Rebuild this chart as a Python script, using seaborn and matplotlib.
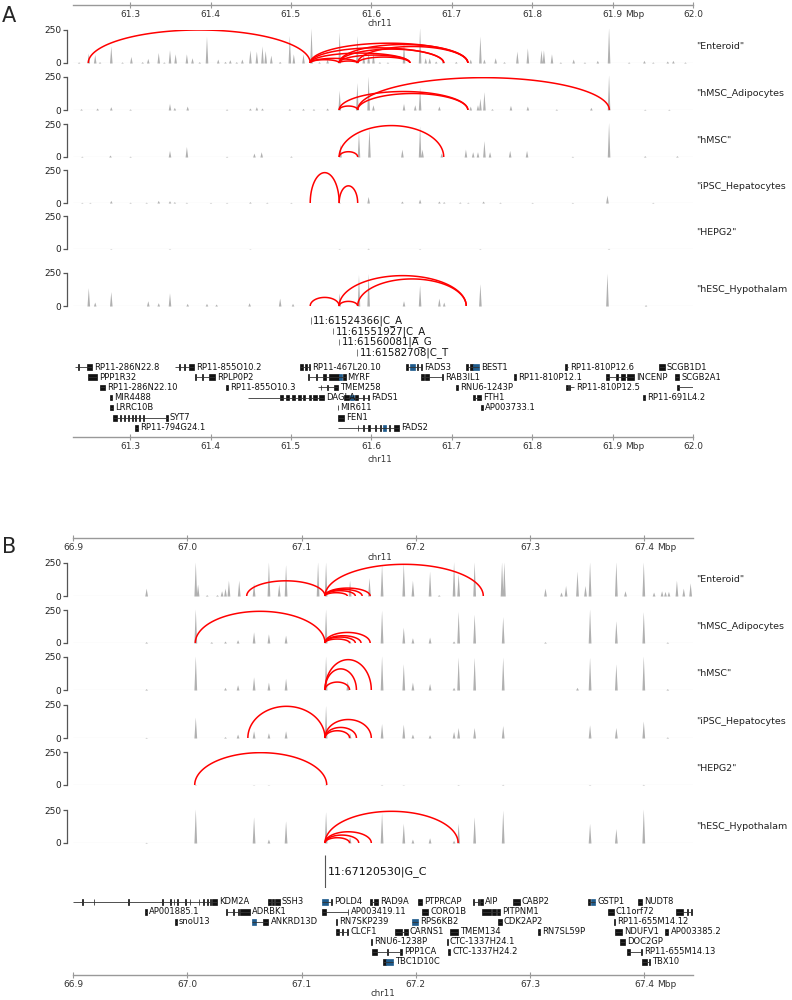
import numpy as np
import pandas as pd
import matplotlib
matplotlib.use("Agg")
import matplotlib.pyplot as plt
import seaborn as sns

sns.set_theme(style="white")
plt.rcParams["font.family"] = ["DejaVu Sans"]

W, H = 792, 1000

# ---------------- data: panel A (chr11 61.23-62.0 Mbp) ----------------
a_xlim = (61.229, 62.0)
a_ticks = [61.3, 61.4, 61.5, 61.6, 61.7, 61.8, 61.9, 62.0]
# track labels as far as they are visible at the right edge
track_names = ['"Enteroid"', '"hMSC_Adipocytes', '"hMSC"',
               '"iPSC_Hepatocytes', '"HEPG2"', '"hESC_Hypothalam']

# coverage peaks (position Mbp, height)
a_enteroid = [(61.236, 8), (61.248, 75), (61.256, 65), (61.262, 10), (61.276, 130), (61.290, 8),
              (61.301, 50), (61.315, 10), (61.322, 35), (61.335, 80), (61.342, 8), (61.349, 100),
              (61.356, 70), (61.370, 70), (61.377, 40), (61.386, 10), (61.395, 205), (61.409, 30),
              (61.418, 12), (61.424, 25), (61.432, 10), (61.439, 30), (61.449, 100), (61.457, 90),
              (61.464, 130), (61.468, 95), (61.475, 60), (61.486, 12), (61.498, 210), (61.503, 70),
              (61.515, 70), (61.525, 265), (61.535, 10), (61.545, 30), (61.560, 235), (61.582, 210),
              (61.590, 70), (61.596, 90), (61.602, 80), (61.610, 10), (61.620, 8), (61.640, 160),
              (61.660, 270), (61.667, 40), (61.672, 40), (61.680, 15), (61.689, 25), (61.705, 12),
              (61.723, 30), (61.735, 205), (61.740, 30), (61.754, 40), (61.765, 10), (61.781, 90),
              (61.794, 115), (61.811, 100), (61.814, 100), (61.824, 70), (61.835, 8), (61.851, 30),
              (61.865, 8), (61.881, 20), (61.895, 270), (61.920, 8), (61.939, 20), (61.950, 8),
              (61.968, 15), (61.975, 20), (61.990, 8)]
a_adipo = [(61.239, 10), (61.259, 15), (61.276, 25), (61.300, 8), (61.349, 50), (61.355, 20),
           (61.371, 30), (61.420, 8), (61.449, 15), (61.457, 25), (61.464, 15), (61.498, 10),
           (61.515, 12), (61.528, 10), (61.545, 15), (61.560, 150), (61.582, 210), (61.596, 260),
           (61.602, 40), (61.640, 50), (61.654, 40), (61.660, 175), (61.684, 30), (61.723, 30),
           (61.732, 40), (61.735, 90), (61.740, 140), (61.750, 10), (61.773, 35), (61.794, 30),
           (61.830, 8), (61.873, 20), (61.895, 270), (61.940, 6), (61.970, 6)]
a_hmsc = [(61.240, 6), (61.275, 15), (61.300, 6), (61.349, 50), (61.370, 80), (61.420, 6),
          (61.454, 30), (61.463, 40), (61.500, 8), (61.561, 100), (61.584, 190), (61.597, 220),
          (61.638, 60), (61.660, 240), (61.663, 60), (61.687, 30), (61.717, 60), (61.726, 40),
          (61.732, 40), (61.740, 125), (61.747, 40), (61.772, 50), (61.793, 50), (61.850, 6),
          (61.895, 265), (61.940, 10), (61.980, 10)]
a_ipsc = [(61.240, 5), (61.250, 5), (61.276, 20), (61.300, 6), (61.320, 6), (61.335, 20),
          (61.349, 18), (61.355, 10), (61.370, 6), (61.400, 5), (61.420, 5), (61.449, 10),
          (61.470, 6), (61.500, 5), (61.560, 8), (61.596, 50), (61.638, 15), (61.660, 30),
          (61.684, 15), (61.690, 10), (61.710, 8), (61.720, 6), (61.739, 15), (61.760, 6),
          (61.800, 5), (61.850, 5), (61.893, 60), (61.950, 5)]
a_hepg2 = [(61.276, 4), (61.349, 4), (61.449, 3), (61.560, 4), (61.596, 6), (61.660, 4),
           (61.735, 4), (61.895, 5)]
a_hesc = [(61.248, 140), (61.256, 30), (61.276, 110), (61.322, 40), (61.335, 25), (61.349, 100),
          (61.371, 20), (61.395, 20), (61.407, 15), (61.448, 25), (61.486, 60), (61.502, 20),
          (61.560, 100), (61.584, 240), (61.596, 250), (61.640, 40), (61.660, 160), (61.684, 60),
          (61.690, 30), (61.735, 170), (61.893, 250), (61.941, 10)]
a_peaks = [a_enteroid, a_adipo, a_hmsc, a_ipsc, a_hepg2, a_hesc]

# interaction arcs (start, end, apex height)
a_arcs = [
    [(61.248, 61.524, 250), (61.524, 61.560, 25), (61.524, 61.583, 35), (61.560, 61.583, 15),
     (61.524, 61.648, 75), (61.560, 61.648, 60), (61.583, 61.648, 45), (61.524, 61.690, 115),
     (61.560, 61.690, 105), (61.524, 61.720, 150), (61.560, 61.720, 140), (61.583, 61.720, 125)],
    [(61.560, 61.583, 30), (61.560, 61.720, 140), (61.583, 61.720, 125), (61.583, 61.896, 245)],
    [(61.560, 61.583, 40), (61.560, 61.690, 238)],
    [(61.524, 61.560, 230), (61.560, 61.583, 130)],
    [],
    [(61.524, 61.560, 65), (61.560, 61.583, 35), (61.560, 61.718, 230), (61.583, 61.718, 205)],
]

a_variants = [61.524366, 61.551927, 61.560081, 61.582708]
a_variant_labels = ["11:61524366|C_A", "11:61551927|C_A", "11:61560081|A_G", "11:61582708|C_T"]

# genes: (name, start, end, row, exons)
a_genes = [
    ("RP11-286N22.8", 61.231, 61.253, 0, [(61.235, 61.236), (61.247, 61.253)]),
    ("RP11-855O10.2", 61.356, 61.379, 0, [(61.361, 61.362), (61.367, 61.368), (61.373, 61.379)]),
    ("RP11-467L20.10", 61.511, 61.524, 0, [(61.511, 61.515), (61.518, 61.520), (61.523, 61.524)]),
    ("FADS3", 61.643, 61.663, 0, [(61.643, 61.646), (61.648, 61.654, "b"), (61.657, 61.658), (61.662, 61.663)]),
    ("BEST1", 61.718, 61.734, 0, [(61.718, 61.720), (61.723, 61.727), (61.727, 61.734, "b")]),
    ("RP11-810P12.6", 61.841, 61.845, 0, [(61.841, 61.843)]),
    ("SCGB1D1", 61.958, 61.965, 0, []),
    ("PPP1R32", 61.248, 61.259, 1, []),
    ("RPLP0P2", 61.381, 61.406, 1, [(61.381, 61.382), (61.390, 61.391), (61.398, 61.406)]),
    ("MYRF", 61.521, 61.568, 1, [(61.521, 61.522), (61.531, 61.532), (61.540, 61.544), (61.547, 61.560),
                                 (61.560, 61.563, "b"), (61.565, 61.568)]),
    ("RAB3IL1", 61.662, 61.689, 1, [(61.662, 61.665), (61.667, 61.672), (61.688, 61.689)]),
    ("RP11-810P12.1", 61.778, 61.780, 1, []),
    ("INCENP", 61.892, 61.927, 1, [(61.892, 61.896), (61.904, 61.907), (61.911, 61.915), (61.918, 61.927)]),
    ("SCGB2A1", 61.977, 61.983, 1, []),
    ("RP11-286N22.10", 61.263, 61.269, 2, []),
    ("RP11-855O10.3", 61.419, 61.422, 2, []),
    ("TMEM258", 61.534, 61.559, 2, [(61.537, 61.538), (61.545, 61.546), (61.553, 61.559)]),
    ("RNU6-1243P", 61.705, 61.708, 2, []),
    ("RP11-810P12.5", 61.842, 61.852, 2, [(61.842, 61.844), (61.846, 61.847)]),
    ("", 61.980, 62.000, 2, [(61.980, 61.983)]),
    ("MIR4488", 61.275, 61.278, 3, []),
    ("DAGLA", 61.447, 61.541, 3, [(61.487, 61.490), (61.494, 61.498), (61.501, 61.505), (61.509, 61.512),
                                  (61.515, 61.518), (61.522, 61.525), (61.528, 61.532), (61.535, 61.541)]),
    ("FADS1", 61.566, 61.597, 3, [(61.566, 61.572), (61.573, 61.578, "b"), (61.580, 61.584),
                                  (61.590, 61.591), (61.596, 61.597)]),
    ("FTH1", 61.726, 61.736, 3, [(61.726, 61.729), (61.732, 61.736)]),
    ("RP11-691L4.2", 61.938, 61.940, 3, []),
    ("LRRC10B", 61.275, 61.279, 4, []),
    ("MIR611", 61.558, 61.559, 4, []),
    ("AP003733.1", 61.736, 61.739, 4, []),
    ("SYT7", 61.279, 61.347, 5, [(61.279, 61.284), (61.287, 61.289), (61.293, 61.294), (61.298, 61.299),
                                 (61.302, 61.303), (61.306, 61.307), (61.311, 61.312), (61.316, 61.317),
                                 (61.345, 61.347)]),
    ("FEN1", 61.559, 61.566, 5, []),
    ("RP11-794G24.1", 61.306, 61.310, 6, []),
    ("FADS2", 61.559, 61.634, 6, [(61.583, 61.584), (61.590, 61.591), (61.596, 61.598), (61.605, 61.606),
                                  (61.611, 61.612), (61.615, 61.618, "b"), (61.622, 61.623), (61.628, 61.634)]),
]

# ---------------- data: panel B (chr11 66.9-67.44 Mbp) ----------------
b_xlim = (66.9, 67.4425)
b_ticks = [66.9, 67.0, 67.1, 67.2, 67.3, 67.4]

b_enteroid = [(66.964, 60), (67.007, 260), (67.009, 90), (67.017, 10), (67.026, 10), (67.030, 40),
              (67.033, 60), (67.036, 120), (67.045, 120), (67.058, 100), (67.071, 260), (67.080, 90),
              (67.086, 240), (67.114, 260), (67.121, 260), (67.142, 120), (67.159, 140), (67.170, 240),
              (67.189, 250), (67.197, 120), (67.212, 190), (67.220, 10), (67.233, 260), (67.237, 170),
              (67.251, 260), (67.275, 260), (67.277, 260), (67.313, 60), (67.327, 30), (67.331, 80),
              (67.341, 190), (67.348, 80), (67.352, 260), (67.375, 260), (67.383, 40), (67.399, 260),
              (67.408, 30), (67.415, 40), (67.418, 35), (67.421, 35), (67.428, 120), (67.434, 60),
              (67.440, 100)]
b_adipo = [(66.964, 10), (67.007, 260), (67.021, 10), (67.033, 15), (67.044, 25), (67.058, 85),
           (67.071, 70), (67.086, 60), (67.121, 260), (67.142, 20), (67.170, 250), (67.189, 120),
           (67.197, 40), (67.212, 45), (67.233, 15), (67.237, 240), (67.251, 220), (67.276, 200),
           (67.313, 10), (67.352, 260), (67.375, 170), (67.399, 240), (67.420, 8)]
b_hmsc = [(66.964, 10), (67.007, 260), (67.033, 20), (67.044, 40), (67.058, 100), (67.071, 60),
          (67.086, 90), (67.121, 260), (67.140, 70), (67.170, 260), (67.189, 200), (67.197, 60),
          (67.212, 50), (67.233, 20), (67.237, 250), (67.251, 250), (67.276, 250), (67.341, 20),
          (67.352, 250), (67.375, 200), (67.399, 260), (67.420, 10)]
b_ipsc = [(66.964, 5), (67.007, 160), (67.033, 10), (67.044, 30), (67.058, 55), (67.071, 40),
          (67.086, 55), (67.121, 250), (67.142, 40), (67.170, 110), (67.189, 105), (67.197, 30),
          (67.212, 25), (67.233, 50), (67.237, 80), (67.251, 80), (67.276, 95), (67.352, 100),
          (67.375, 80), (67.399, 130), (67.420, 8)]
b_hepg2 = [(67.007, 4), (67.058, 3), (67.071, 3), (67.121, 4), (67.170, 4), (67.189, 3),
           (67.237, 4), (67.276, 5), (67.352, 4), (67.399, 5)]
b_hesc = [(66.964, 5), (67.007, 260), (67.058, 200), (67.071, 30), (67.086, 170), (67.121, 240),
          (67.142, 50), (67.170, 230), (67.189, 150), (67.197, 30), (67.212, 40), (67.233, 20),
          (67.237, 150), (67.251, 200), (67.276, 250), (67.352, 150), (67.375, 110), (67.399, 260)]
b_peaks = [b_enteroid, b_adipo, b_hmsc, b_ipsc, b_hepg2, b_hesc]

b_arcs = [
    [(67.052, 67.1205, 115), (67.1205, 67.259, 240), (67.1205, 67.140, 25), (67.1205, 67.147, 40),
     (67.1205, 67.153, 50), (67.1205, 67.160, 60)],
    [(67.007, 67.1205, 240), (67.1205, 67.142, 30), (67.1205, 67.147, 45), (67.1205, 67.152, 55),
     (67.1205, 67.160, 80)],
    [(67.1205, 67.142, 60), (67.1205, 67.148, 160), (67.1205, 67.161, 230)],
    [(67.053, 67.1205, 240), (67.1205, 67.142, 55), (67.1205, 67.148, 80), (67.1205, 67.161, 140)],
    [(67.0065, 67.122, 245)],
    [(67.1205, 67.142, 40), (67.1205, 67.150, 60), (67.1205, 67.161, 85), (67.1205, 67.237, 240)],
]

b_variants = [67.120530]
b_variant_labels = ["11:67120530|G_C"]

b_genes = [
    ("KDM2A", 66.900, 67.026, 0, [(66.908, 66.9085), (66.918, 66.9185), (66.948, 66.949), (66.978, 66.9785),
                                  (66.985, 66.9855), (66.988, 66.9885), (66.991, 66.9915), (66.998, 66.9985),
                                  (67.002, 67.0025), (67.010, 67.0105), (67.014, 67.015), (67.017, 67.018),
                                  (67.020, 67.021), (67.022, 67.026)]),
    ("SSH3", 67.071, 67.081, 0, [(67.071, 67.073), (67.074, 67.076), (67.077, 67.081)]),
    ("POLD4", 67.118, 67.127, 0, [(67.118, 67.123, "b"), (67.126, 67.127)]),
    ("RAD9A", 67.160, 67.167, 0, [(67.160, 67.162), (67.163, 67.167)]),
    ("PTPRCAP", 67.202, 67.205, 0, []),
    ("AIP", 67.250, 67.259, 0, [(67.250, 67.2505), (67.254, 67.255), (67.256, 67.259)]),
    ("CABP2", 67.285, 67.291, 0, []),
    ("GSTP1", 67.351, 67.357, 0, [(67.351, 67.352), (67.353, 67.357, "b")]),
    ("NUDT8", 67.394, 67.398, 0, []),
    ("AP001885.1", 66.963, 66.965, 1, []),
    ("ADRBK1", 67.034, 67.055, 1, [(67.034, 67.0345), (67.040, 67.0405), (67.044, 67.045), (67.046, 67.055)]),
    ("AP003419.11", 67.118, 67.141, 1, [(67.118, 67.121), (67.1405, 67.141)]),
    ("CORO1B", 67.205, 67.211, 1, []),
    ("PITPNM1", 67.258, 67.274, 1, [(67.258, 67.266), (67.267, 67.270), (67.271, 67.274)]),
    ("C11orf72", 67.368, 67.373, 1, []),
    ("", 67.428, 67.442, 1, [(67.428, 67.434), (67.437, 67.438), (67.441, 67.442)]),
    ("snoU13", 66.989, 66.991, 2, []),
    ("ANKRD13D", 67.057, 67.071, 2, [(67.057, 67.060, "b"), (67.066, 67.071)]),
    ("RN7SKP239", 67.130, 67.131, 2, []),
    ("RPS6KB2", 67.197, 67.202, 2, [(67.197, 67.202, "b")]),
    ("CDK2AP2", 67.272, 67.275, 2, []),
    ("RP11-655M14.12", 67.373, 67.374, 2, []),
    ("CLCF1", 67.130, 67.141, 3, [(67.130, 67.133), (67.135, 67.136), (67.140, 67.141)]),
    ("CARNS1", 67.182, 67.193, 3, [(67.182, 67.188), (67.190, 67.193)]),
    ("TMEM134", 67.230, 67.237, 3, []),
    ("RN7SL59P", 67.307, 67.309, 3, []),
    ("NDUFV1", 67.374, 67.380, 3, []),
    ("AP003385.2", 67.418, 67.421, 3, []),
    ("RNU6-1238P", 67.161, 67.162, 4, []),
    ("CTC-1337H24.1", 67.227, 67.228, 4, []),
    ("DOC2GP", 67.379, 67.383, 4, []),
    ("PPP1CA", 67.162, 67.188, 5, [(67.162, 67.166), (67.175, 67.1755), (67.186, 67.188)]),
    ("CTC-1337H24.2", 67.228, 67.230, 5, []),
    ("RP11-655M14.13", 67.385, 67.398, 5, [(67.385, 67.387), (67.397, 67.398)]),
    ("TBC1D10C", 67.171, 67.180, 6, [(67.171, 67.174), (67.174, 67.180, "b")]),
    ("TBX10", 67.398, 67.405, 6, [(67.398, 67.402), (67.404, 67.405)]),
]

# ---------------- drawing ----------------
fig = plt.figure(figsize=(W / 100, H / 100), dpi=100)
X0, X1 = 73, 693  # pixel extent of the genome tracks


def add_ax(x0, y0, x1, y1):
    ax = fig.add_axes([x0 / W, 1 - y1 / H, (x1 - x0) / W, (y1 - y0) / H])
    ax.patch.set_visible(False)
    return ax


def draw_track(y_top, peaks, arcs, xlim, label, half_w):
    ax = add_ax(X0, y_top, X1, y_top + 33)
    grid = np.linspace(xlim[0], xlim[1], 8000)
    prof = np.zeros_like(grid)
    for p, h in peaks:
        prof = np.maximum(prof, h * np.clip(1 - np.abs(grid - p) / half_w, 0, None))
    ax.fill_between(grid, prof, color="#b0b0b0", lw=0, clip_on=False)
    ax.plot(xlim, [1.5, 1.5], color="#cccccc", lw=0.8)
    if arcs:
        t = np.linspace(0, np.pi, 90)
        parts = []
        for i, (s, e, h) in enumerate(arcs):
            parts.append(pd.DataFrame({"x": (s + e) / 2 + (e - s) / 2 * np.cos(t),
                                       "y": h * np.sin(t), "arc": i}))
        sns.lineplot(data=pd.concat(parts), x="x", y="y", units="arc", estimator=None,
                     sort=False, color="red", lw=1.1, ax=ax, legend=False)
    ax.set_xlim(xlim)
    ax.set_ylim(0, 250)
    ax.set_xlabel("")
    ax.set_ylabel("")
    for s in ["top", "right", "bottom"]:
        ax.spines[s].set_visible(False)
    ax.spines["left"].set_position(("outward", 4))
    ax.spines["left"].set_color("#555555")
    ax.spines["left"].set_linewidth(0.9)
    ax.set_xticks([])
    ax.set_yticks([0, 250])
    ax.set_yticklabels(["0", "250"])
    ax.tick_params(axis="y", left=True, direction="out", length=3, width=0.9,
                   color="#555555", labelsize=6.5, pad=1.5, labelcolor="#222222")
    fig.text(696 / W, 1 - (y_top + 16.5) / H, label, fontsize=6.8, va="center",
             ha="left", color="#222222")


def draw_axis(y, xlim, ticks, mbp_tick, chr_xy):
    ax = add_ax(X0, y - 1, X1, y)
    ax.set_xlim(xlim)
    ax.set_ylim(0, 1)
    for s in ["top", "left", "right"]:
        ax.spines[s].set_visible(False)
    ax.spines["bottom"].set_color("#999999")
    ax.spines["bottom"].set_linewidth(1.0)
    ax.set_yticks([])
    ax.set_xticks(ticks)
    ax.set_xticklabels([f"{t:.1f}" for t in ticks])
    ax.tick_params(axis="x", bottom=True, direction="inout", length=4, width=0.8,
                   color="#999999", labelsize=6.5, pad=1.5, labelcolor="#333333")
    ax.annotate("Mbp", xy=(mbp_tick, 0), xycoords=("data", "axes fraction"),
                xytext=(9, -3.6), textcoords="offset points", fontsize=6.5,
                va="top", ha="left", color="#333333")
    fig.text(chr_xy[0] / W, 1 - chr_xy[1] / H, "chr11", fontsize=6.2,
             ha="center", va="center", color="#333333")


def draw_genes(y0, y1, genes, xlim, pad):
    ax = add_ax(X0, y0, X1, y1)
    ax.set_xlim(xlim)
    ax.set_ylim(6.5, -0.5)
    ax.axis("off")
    for name, s, e, row, exons in genes:
        ax.hlines(row, s, e, color="#333333", lw=0.6)
        blocks = exons if exons else [(s, e)]
        for blk in blocks:
            col = "#1f5b8c" if len(blk) > 2 else "#111111"
            ax.barh(row, blk[1] - blk[0], left=blk[0], height=0.55, color=col,
                    edgecolor=col, lw=0.5)
        if name:
            ax.text(e + pad, row, name, fontsize=6, va="center", ha="left", color="#111111")


def draw_variants_a(y0, y1, pos, labels, xlim):
    ax = add_ax(X0, y0, X1, y1)
    ax.set_xlim(xlim)
    ax.set_ylim(len(pos) - 0.5, -0.5)
    ax.axis("off")
    for r, (p, lab) in enumerate(zip(pos, labels)):
        ax.vlines(p, r - 0.3, r + 0.3, color="#666666", lw=0.6)
        ax.text(p + 0.0035, r, lab, fontsize=7.3, va="center", ha="left", color="#111111")


def draw_variants_b(y0, y1, pos, labels, xlim):
    ax = add_ax(X0, y0, X1, y1)
    ax.set_xlim(xlim)
    ax.set_ylim(0, 1)
    ax.axis("off")
    for p, lab in zip(pos, labels):
        ax.vlines(p, 0, 1, color="#555555", lw=0.8)
        ax.text(p + 0.0025, 0.5, lab, fontsize=8, va="center", ha="left", color="#111111")


# panel A
fig.text(9 / W, 1 - 16 / H, "A", fontsize=15, ha="center", va="center")
draw_axis(5, a_xlim, a_ticks, 61.9, (380, 23))
a_tops = [30, 77, 124, 170, 216, 273]
for top, name, pk, arcs in zip(a_tops, track_names, a_peaks, a_arcs):
    draw_track(top, pk, arcs, a_xlim, name, 0.0016)
draw_variants_a(315, 358, a_variants, a_variant_labels, a_xlim)
draw_genes(362, 433, a_genes, a_xlim, 0.0025)
draw_axis(437, a_xlim, a_ticks, 61.9, (380, 460))

# panel B
fig.text(9 / W, 1 - 547 / H, "B", fontsize=15, ha="center", va="center")
draw_axis(538, b_xlim, b_ticks, 67.4, (380, 557))
b_tops = [563, 610, 657, 705, 752, 810]
for top, name, pk, arcs in zip(b_tops, track_names, b_peaks, b_arcs):
    draw_track(top, pk, arcs, b_xlim, name, 0.0012)
draw_variants_b(855, 888, b_variants, b_variant_labels, b_xlim)
draw_genes(897, 967, b_genes, b_xlim, 0.0018)
draw_axis(975, b_xlim, b_ticks, 67.4, (383, 994))

fig.savefig("out.png", dpi=100)
